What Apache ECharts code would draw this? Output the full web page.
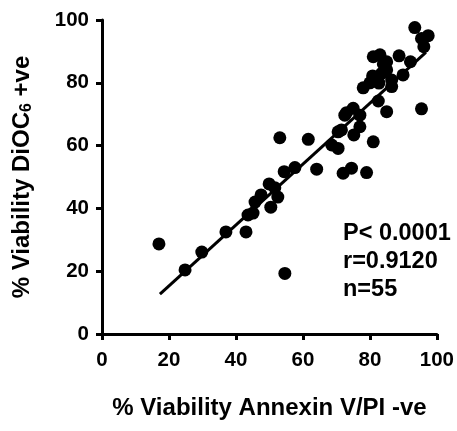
<!DOCTYPE html>
<html><head><meta charset="utf-8">
<script src="https://cdn.jsdelivr.net/npm/echarts@6/dist/echarts.min.js"></script>
<style>html,body{margin:0;padding:0;background:#fff}#c{width:457px;height:431px}</style>
</head><body><div id="c"></div>
<script>
const xValues = [17.0,24.8,29.8,37.0,43.0,43.6,45.1,45.7,47.5,49.9,50.4,52.5,53.1,61.6,64.1,57.6,54.4,51.6,70.5,72.5,75.0,68.6,70.5,72.0,74.5,75.2,93.4,97.4,95.4,96.1,95.4,85.0,82.5,78.0,80.8,83.0,81.0,88.7,92.1,85.0,89.9,86.5,86.5,83.5,85.0,77.0,82.7,79.0,81.0,77.0,54.6,80.0,84.0,73.0,71.5];
const yValues = [28.7,20.4,26.1,32.5,32.5,37.9,38.5,42.0,44.3,47.8,40.4,43.6,62.5,62.0,52.5,53.0,51.7,46.6,64.4,69.7,71.9,60.2,59.1,51.2,52.8,63.4,97.6,95.0,94.1,91.5,71.7,70.8,74.2,78.4,82.2,88.9,88.3,88.6,86.7,86.7,82.5,80.9,78.8,83.0,84.1,69.7,79.9,51.4,61.2,66.0,19.3,80.0,86.0,70.5,65.0];
const fitX = [17.3, 96.7];
const fitY = [12.7, 89.7];
const xTicks = [0,20,40,60,80,100];
const yTicks = [0,20,40,60,80,100];
const statsLines = ['P< 0.0001','r=0.9120','n=55'];

const FONT = 'Liberation Sans, Arial, sans-serif';
const chart = echarts.init(document.getElementById('c'), null, {renderer:'canvas'});
const axisCommon = {
  min: 0, max: 100, interval: 20,
  axisLine: {show:true, lineStyle:{color:'#000', width:3}},
  axisTick: {show:true, length:6, lineStyle:{color:'#000', width:3}},
  splitLine: {show:false},
  axisLabel: {color:'#000', fontSize:20.5, fontWeight:'bold', fontFamily:FONT},
  nameLocation: 'middle',
  nameTextStyle: {color:'#000', fontSize:24, fontWeight:'bold', fontFamily:FONT}
};
chart.setOption({
  animation:false,
  backgroundColor:'#fff',
  grid:{left:102, right:20, top:20, bottom:97, containLabel:false},
  xAxis: Object.assign({}, axisCommon, {
    type:'value', name:'% Viability Annexin V/PI -ve', nameGap:62,
    axisLabel: Object.assign({}, axisCommon.axisLabel, {margin:16, formatter:v=>xTicks.includes(v)?String(v):''})
  }),
  yAxis: Object.assign({}, axisCommon, {
    type:'value', nameGap:67,
    name:'{n|% Viability DiOC}{s|6}{n| +ve}',
    nameTextStyle: {color:'#000', fontFamily:FONT, rich:{
      n:{fontSize:24, fontWeight:'bold', fontFamily:FONT, color:'#000'},
      s:{fontSize:16, fontWeight:'bold', fontFamily:FONT, color:'#000', verticalAlign:'bottom', padding:[10,0,0,0]}
    }},
    axisLabel: Object.assign({}, axisCommon.axisLabel, {margin:13, formatter:v=>yTicks.includes(v)?String(v):''})
  }),
  graphic: statsLines.map((t,i)=>({
    type:'text', left:343, top:222+i*28,
    style:{text:t, fill:'#000', font:'bold 23.5px '+FONT}
  })),
  series:[
    {type:'scatter', data:xValues.map((x,i)=>[x,yValues[i]]), symbol:'circle', symbolSize:13,
     itemStyle:{color:'#000', opacity:1}, z:3},
    {type:'line', data:fitX.map((x,i)=>[x,fitY[i]]), symbol:'none',
     lineStyle:{color:'#000', width:3}, z:2}
  ]
});
</script></body></html>
